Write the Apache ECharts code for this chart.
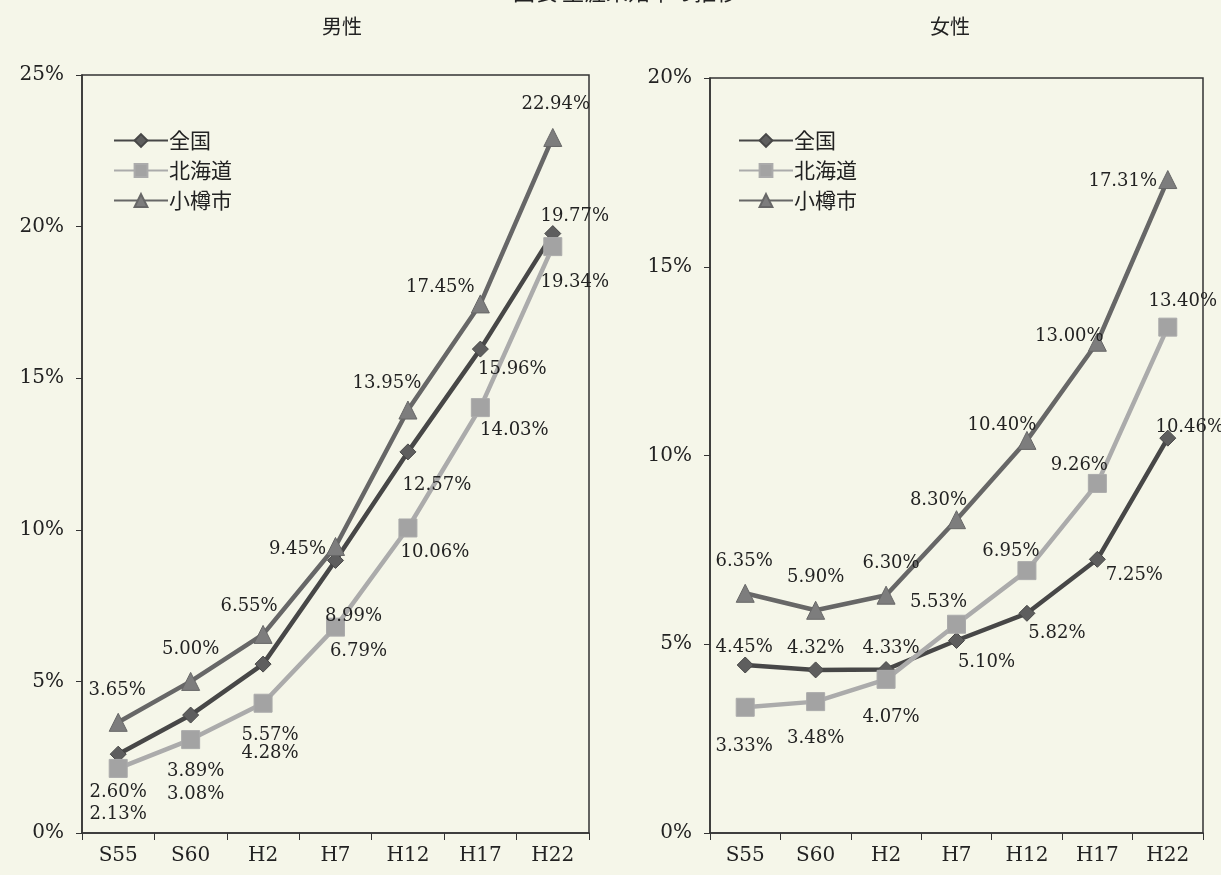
<!DOCTYPE html>
<html><head><meta charset="utf-8">
<script src="https://cdn.jsdelivr.net/npm/echarts@6/dist/echarts.min.js"></script>
<style>html,body{margin:0;padding:0;background:#f5f6e9;}#c{width:1221px;height:875px;}</style>
</head><body><div id="c"></div>
<script>
const categories = ['S55','S60','H2','H7','H12','H17','H22'];
const seriesNames = ['全国','北海道','小樽市'];
const maleZenkoku  = [2.60, 3.89, 5.57, 8.99, 12.57, 15.96, 19.77];
const maleHokkaido = [2.13, 3.08, 4.28, 6.79, 10.06, 14.03, 19.34];
const maleOtaru    = [3.65, 5.00, 6.55, 9.45, 13.95, 17.45, 22.94];
const femaleZenkoku  = [4.45, 4.32, 4.33, 5.10, 5.82, 7.25, 10.46];
const femaleHokkaido = [3.33, 3.48, 4.07, 5.53, 6.95, 9.26, 13.40];
const femaleOtaru    = [6.35, 5.90, 6.30, 8.30, 10.40, 13.00, 17.31];
const maleMax = 25, femaleMax = 20, yStep = 5;

// label offsets (dx, dy) relative to each point
const offMaleZ = [[0,38],[5,56],[7,71],[18,56],[29,33],[32,20],[22,-17]];
const offMaleH = [[0,46],[5,55],[7,50],[23,24],[27,24],[34,23],[22,36]];
const offMaleO = [[-1,-32],[0,-32],[-14,-28],[-38,3],[-21,-27],[-40,-17],[3,-33]];
const offFemZ = [[-1,-18],[0,-22],[5,-21],[30,22],[30,20],[37,16],[22,-11]];
const offFemH = [[-1,39],[0,37],[5,38],[-18,-22],[-16,-19],[-18,-18],[15,-26]];
const offFemO = [[-1,-32],[0,-33],[5,-32],[-18,-19],[-25,-15],[-28,-6],[-45,2]];

const serif = '"DejaVu Serif", "Liberation Serif", serif';
const jp = '"Noto Sans CJK JP", sans-serif';
const styles = [
  {line:'#474747', fill:'#5e5e5e', symbol:'diamond', size:16},
  {line:'#ababab', fill:'#a3a3a3', symbol:'rect', size:18},
  {line:'#676767', fill:'#7d7d7d', symbol:'triangle', size:18}
];

function mk(name, data, offs, idx, s) {
  return {
    name: name, type: 'line', xAxisIndex: idx, yAxisIndex: idx,
    data: data.map((v, i) => ({value: v, label: {offset: offs[i]}})),
    symbol: s.symbol, symbolSize: s.size,
    lineStyle: {color: s.line, width: 4.5},
    itemStyle: {color: s.fill, borderColor: s.line, borderWidth: 1},
    label: {show: true, position: 'inside', formatter: p => p.value.toFixed(2) + '%',
      fontFamily: serif, fontSize: 18, color: '#222'},
    emphasis: {disabled: true}, animation: false, z: 3 + idx
  };
}

const axisLabelStyle = {fontFamily: serif, fontSize: 20, color: '#222'};
function xAx(gi) {
  return {type: 'category', gridIndex: gi, data: categories, boundaryGap: true,
    axisLine: {lineStyle: {color: '#333', width: 1.5}},
    axisTick: {show: true, inside: false, length: 7, lineStyle: {color: '#333'}},
    axisLabel: Object.assign({margin: 13}, axisLabelStyle)};
}
function yAx(gi, max) {
  return {type: 'value', gridIndex: gi, min: 0, max: max, interval: yStep,
    axisLine: {show: true, lineStyle: {color: '#333', width: 1.5}},
    axisTick: {show: true, length: 6, lineStyle: {color: '#333'}},
    splitLine: {show: false},
    axisLabel: Object.assign({formatter: '{value}%', margin: 18}, axisLabelStyle)};
}
function lg(gi, left) {
  return {show: true, orient: 'vertical', left: left, top: 125, itemGap: 9,
    itemWidth: 54, itemHeight: 16,
    data: seriesNames.map(n => ({name: n})),
    textStyle: {fontFamily: jp, fontSize: 21, color: '#222', padding: [0,0,0,-4]},
    selectedMode: false,
    formatter: n => n};
}

const chart = echarts.init(document.getElementById('c'), null, {renderer: 'canvas'});
chart.setOption({
  backgroundColor: '#f5f6e9',
  title: [
    {text: '図表 生涯未婚率の推移', left: 508, top: -24, textStyle: {fontFamily: jp, fontSize: 22, fontWeight: 'normal', color: '#222'}},
    {text: '男性', left: 317, top: 11, textStyle: {fontFamily: jp, fontSize: 20, fontWeight: 'normal', color: '#222'}},
    {text: '女性', left: 925, top: 11, textStyle: {fontFamily: jp, fontSize: 20, fontWeight: 'normal', color: '#222'}}
  ],
  grid: [
    {left: 82, top: 75, width: 507, height: 758, show: true, borderColor: '#333', borderWidth: 1.5, backgroundColor: 'transparent'},
    {left: 710, top: 78, width: 493, height: 755, show: true, borderColor: '#333', borderWidth: 1.5, backgroundColor: 'transparent'}
  ],
  legend: [lg(0, 108), lg(1, 733)],
  xAxis: [xAx(0), xAx(1)],
  yAxis: [yAx(0, maleMax), yAx(1, femaleMax)],
  series: [
    mk('全国', maleZenkoku, offMaleZ, 0, styles[0]),
    mk('北海道', maleHokkaido, offMaleH, 0, styles[1]),
    mk('小樽市', maleOtaru, offMaleO, 0, styles[2]),
    mk('全国', femaleZenkoku, offFemZ, 1, styles[0]),
    mk('北海道', femaleHokkaido, offFemH, 1, styles[1]),
    mk('小樽市', femaleOtaru, offFemO, 1, styles[2])
  ]
});
</script></body></html>
